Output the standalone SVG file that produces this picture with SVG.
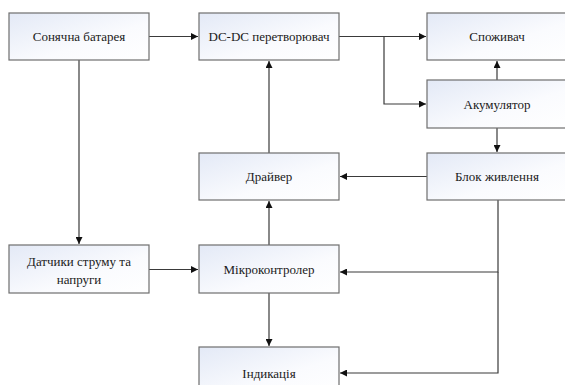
<svg xmlns="http://www.w3.org/2000/svg" width="565" height="385" viewBox="0 0 565 385">
<style>
.box{fill:url(#g);stroke:#6e6e6e;stroke-width:1.2}
.t{font-family:'Liberation Serif','Times New Roman','DejaVu Serif',serif;font-size:13px;fill:#1a1a1a;text-anchor:middle}
.c{fill:none;stroke:#3a3a3a;stroke-width:1.2}
</style>
<defs>
<linearGradient id="g" x1="0" y1="0" x2="1" y2="1">
<stop offset="0" stop-color="#e3e9f6"/>
<stop offset="0.6" stop-color="#fafbfe"/>
<stop offset="1" stop-color="#ffffff"/>
</linearGradient>
<marker id="a" viewBox="0 0 10 10" refX="10" refY="5" markerWidth="7" markerHeight="7" markerUnits="userSpaceOnUse" orient="auto">
<path d="M0,0 L10,5 L0,10 Z" fill="#111"/>
</marker>
</defs>
<rect width="565" height="385" fill="#ffffff"/>
<g id="connectors">
<path class="c" d="M149,36.5 H198" marker-end="url(#a)"/>
<path class="c" d="M339,36.5 H426" marker-end="url(#a)"/>
<path class="c" d="M384,36.5 V104 H426" marker-end="url(#a)"/>
<path class="c" d="M497,80 V61" marker-end="url(#a)"/>
<path class="c" d="M497,128 V152" marker-end="url(#a)"/>
<path class="c" d="M427,176.5 H340" marker-end="url(#a)"/>
<path class="c" d="M269,153 V61" marker-end="url(#a)"/>
<path class="c" d="M269,245 V201" marker-end="url(#a)"/>
<path class="c" d="M79,60 V244" marker-end="url(#a)"/>
<path class="c" d="M149,269.5 H198" marker-end="url(#a)"/>
<path class="c" d="M498,200 V272 H340" marker-end="url(#a)"/>
<path class="c" d="M498,272 V373 H340" marker-end="url(#a)"/>
<path class="c" d="M269,293 V346" marker-end="url(#a)"/>
</g>
<g id="n1"><rect class="box" x="9" y="13" width="140" height="47"/><text class="t" x="79" y="41">Сонячна батарея</text></g>
<g id="n2"><rect class="box" x="199" y="13" width="140" height="47"/><text class="t" x="269" y="41">DC-DC перетворювач</text></g>
<g id="n3"><rect class="box" x="427" y="13" width="140" height="47"/><text class="t" x="497" y="41">Споживач</text></g>
<g id="n4"><rect class="box" x="427" y="80" width="140" height="48"/><text class="t" x="497" y="108.5">Акумулятор</text></g>
<g id="n5"><rect class="box" x="199" y="153" width="140" height="47"/><text class="t" x="269" y="181">Драйвер</text></g>
<g id="n6"><rect class="box" x="427" y="153" width="140" height="47"/><text class="t" x="497" y="181">Блок живлення</text></g>
<g id="n7"><rect class="box" x="9" y="245" width="140" height="48"/><text class="t" x="79" y="265.5">Датчики струму та</text><text class="t" x="79" y="283.5">напруги</text></g>
<g id="n8"><rect class="box" x="199" y="245" width="140" height="48"/><text class="t" x="269" y="273.5">Мікроконтролер</text></g>
<g id="n9"><rect class="box" x="199" y="347" width="140" height="48"/><text class="t" x="269" y="377.5">Індикація</text></g>
</svg>
